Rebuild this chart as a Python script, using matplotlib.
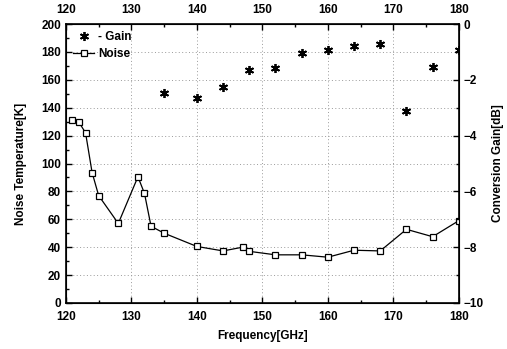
import matplotlib
matplotlib.use("Agg")
import matplotlib.pyplot as plt
from matplotlib.ticker import MultipleLocator

plt.rcParams['font.family'] = ['Liberation Sans', 'DejaVu Sans']
plt.rcParams['font.weight'] = 'bold'

noise_freq = [121, 122, 123, 124, 125, 128, 131, 132, 133, 135, 140, 144, 147, 148,
              152, 156, 160, 164, 168, 172, 176, 180]
noise_temp = [131.5, 129.5, 122, 93.5, 77, 57, 90.5, 78.5, 55, 50, 40.5, 37.3, 40, 37,
              34.5, 34.5, 32.8, 37.8, 37.3, 52.8, 47.5, 59]

gain_freq = [135, 140, 144, 148, 152, 156, 160, 164, 168, 172, 176, 180]
gain_db = [-2.48, -2.66, -2.27, -1.65, -1.57, -1.05, -0.93, -0.78, -0.73, -3.12, -1.53, -0.93]

fig = plt.figure(figsize=(5.07, 3.49), dpi=100)
ax = fig.add_axes([0.130, 0.132, 0.775, 0.799])

ax.plot(noise_freq, noise_temp, color='black', lw=0.9, marker='s', ms=5,
        mfc='white', mec='black', mew=0.9, label='Noise', zorder=3)
ax.set_xlim(120, 180)
ax.set_ylim(0, 200)
ax.xaxis.set_major_locator(MultipleLocator(10))
ax.xaxis.set_minor_locator(MultipleLocator(5))
ax.yaxis.set_major_locator(MultipleLocator(20))
ax.yaxis.set_minor_locator(MultipleLocator(10))
ax.grid(True, which='major', color='#9a9a9a', ls=(0, (1, 2.5)), lw=0.7)
ax.tick_params(which='both', direction='in', top=True, labeltop=True, right=False,
               labelsize=8.5, width=1)
ax.tick_params(which='major', length=4)
ax.tick_params(which='minor', length=2)
ax.tick_params(axis='x', which='major', pad=6)
for lab in ax.get_xticklabels() + ax.get_yticklabels():
    lab.set_fontweight('bold')
ax.set_xlabel('Frequency[GHz]', fontsize=8.5, fontweight='bold', labelpad=5)
ax.set_ylabel('Noise Temperature[K]', fontsize=8.5, fontweight='bold', labelpad=10)
for s in ax.spines.values():
    s.set_linewidth(1.2)

ax2 = ax.twinx()
ax2.plot(gain_freq, gain_db, ls='none', marker=(6, 2, 0), ms=6.5, mew=1.3,
         color='black', label='- Gain', zorder=3)
ax2.set_ylim(-10, 0)
ax2.yaxis.set_major_locator(MultipleLocator(2))
ax2.yaxis.set_minor_locator(MultipleLocator(1))
ax2.tick_params(which='both', direction='in', labelsize=8.5, width=1)
ax2.tick_params(which='major', length=4)
ax2.tick_params(which='minor', length=2)
for lab in ax2.get_yticklabels():
    lab.set_fontweight('bold')
ax2.set_ylabel('Conversion Gain[dB]', fontsize=8.5, fontweight='bold', labelpad=6)

h1, l1 = ax2.get_legend_handles_labels()
h2, l2 = ax.get_legend_handles_labels()
leg = ax2.legend(h1 + h2, l1 + l2, loc='upper left', frameon=False,
                 prop={'weight': 'bold', 'size': 8.5}, handlelength=1.8,
                 handletextpad=0.3, borderaxespad=0.2, labelspacing=0.4)

fig.savefig('out.png', dpi=100)
